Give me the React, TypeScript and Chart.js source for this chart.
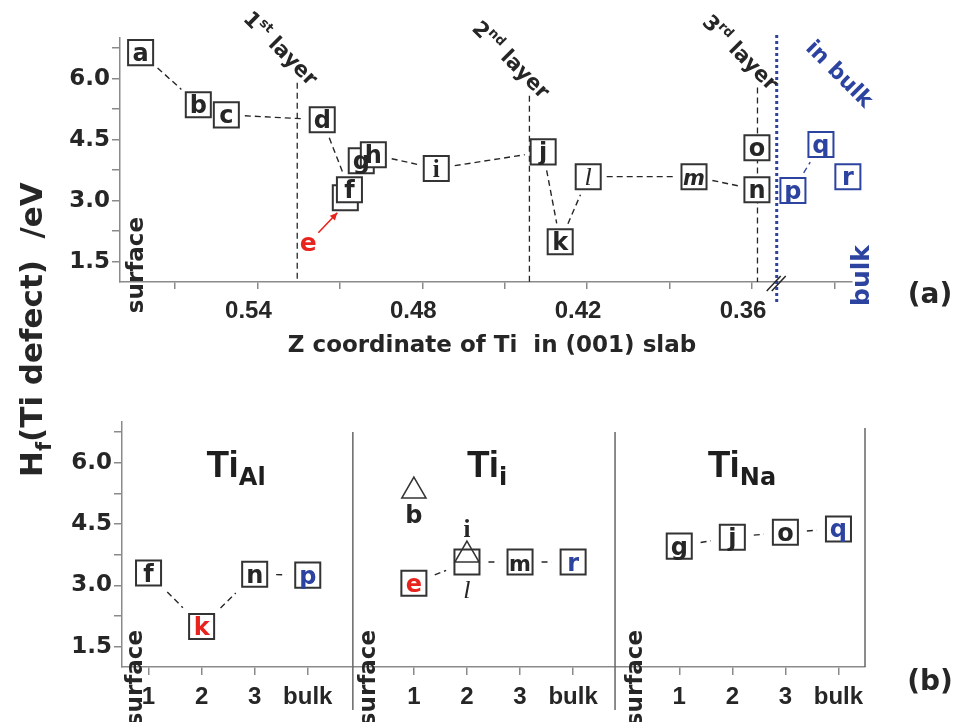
import React, { useEffect, useRef } from 'react';
import { Chart, registerables } from 'chart.js';

Chart.register(...registerables);

// ---------------- data ----------------
// panel (a): Z coordinate of Ti vs formation enthalpy
const topLabels = ['a', 'b', 'c', 'd', 'e', 'f', 'g', 'h', 'i', 'j', 'k', 'l', 'm', 'n', 'o', 'p', 'q', 'r'];
const topZ = [0.5825, 0.5615, 0.5513, 0.5164, 0.508, 0.5065, 0.5022, 0.4978, 0.4749, 0.436, 0.4298, 0.4196, 0.3811, 0.3582, 0.3582, 0.3451, 0.3349, 0.3251];
const topH = [6.64, 5.36, 5.11, 4.99, 3.07, 3.27, 3.98, 4.13, 3.79, 4.2, 1.99, 3.59, 3.59, 3.27, 4.3, 3.25, 4.38, 3.59];
const topLinks = [['a', 'b'], ['c', 'd'], ['d', 'f'], ['h', 'i'], ['i', 'j'], ['j', 'k'], ['k', 'l'], ['l', 'm'], ['m', 'n'], ['p', 'q'], ['q', 'r']];
const layerZ = [0.5255, 0.441, 0.358];
const layerNames = [['1', 'st'], ['2', 'nd'], ['3', 'rd']];
const bulkZ = 0.351;
const zTicks = [0.57, 0.54, 0.51, 0.48, 0.45, 0.42, 0.39, 0.36, 0.33];
const zTickLabels = ['', '0.54', '', '0.48', '', '0.42', '', '0.36', ''];
const hTicks = [1.5, 2.25, 3.0, 3.75, 4.5, 5.25, 6.0, 6.75];
const hTickLabels = ['1.5', '', '3.0', '', '4.5', '', '6.0', ''];

// panel (b): by site type
const panelNames = [['Ti', 'Al'], ['Ti', 'i'], ['Ti', 'Na']];
const bottomLabels = ['f', 'k', 'n', 'p', 'b', 'e', 'l', 'i', 'm', 'r', 'g', 'j', 'o', 'q'];
const bottomPos = [1, 2, 3, 4, 6, 6, 7, 7, 8, 9, 11, 12, 13, 14];
const bottomH = [3.3, 1.99, 3.27, 3.25, 5.31, 3.05, 3.57, 3.74, 3.57, 3.57, 3.96, 4.18, 4.3, 4.38];
const bottomLinks = [['f', 'k'], ['k', 'n'], ['n', 'p'], ['e', 'l'], ['l', 'm'], ['m', 'r'], ['g', 'j'], ['j', 'o'], ['o', 'q']];
const siteTickPos = [1, 2, 3, 4, 6, 7, 8, 9, 11, 12, 13, 14];
const siteTickLabels = ['1', '2', '3', 'bulk', '1', '2', '3', 'bulk', '1', '2', '3', 'bulk'];
const triangleSites = ['b', 'i'];
const blueSites = ['p', 'q', 'r'];
const redSitesB = ['e', 'k'];

// ---------------- styles ----------------
const DARK = '#262626';
const AXIS = '#8a8a8a';
const RED = '#e8231e';
const BLUE = '#2c43a0';
const DJ = '"DejaVu Sans"';
const LS = '"Liberation Sans"';
const SERIF = '"Liberation Serif"';

function letterFont(ch: string, top: boolean) {
  if (ch === 'i') return `bold 25px ${SERIF}`;
  if (ch === 'l') return `italic 26px ${SERIF}`;
  if (ch === 'm') return top ? `italic bold 21px ${DJ}` : `bold 21px ${DJ}`;
  return `bold 24px ${DJ}`;
}

function drawParts(ctx: CanvasRenderingContext2D, parts: any[], x: number, y: number, angle: number, align: string, color: string) {
  ctx.save();
  ctx.translate(x, y);
  ctx.rotate(angle);
  ctx.fillStyle = color;
  ctx.textBaseline = 'alphabetic';
  ctx.textAlign = 'left';
  let total = 0;
  parts.forEach((p) => { ctx.font = p.font; total += ctx.measureText(p.text).width; });
  let cx = align === 'right' ? -total : align === 'center' ? -total / 2 : 0;
  parts.forEach((p) => {
    ctx.font = p.font;
    ctx.fillText(p.text, cx, p.dy || 0);
    cx += ctx.measureText(p.text).width;
  });
  ctx.restore();
}

function drawLinks(ctx: CanvasRenderingContext2D, meta: any, labels: string[], links: string[][], gap: number, colorFn: (a: string, b: string) => string) {
  ctx.save();
  ctx.lineWidth = 1.4;
  ctx.setLineDash([6, 4]);
  links.forEach(([a, b]) => {
    const p = meta.data[labels.indexOf(a)];
    const q = meta.data[labels.indexOf(b)];
    const dx = q.x - p.x, dy = q.y - p.y;
    const len = Math.hypot(dx, dy);
    const ux = dx / len, uy = dy / len;
    const edge = 12.5 / Math.max(Math.abs(ux), Math.abs(uy)) + gap;
    if (len <= 2 * edge) return;
    ctx.strokeStyle = colorFn(a, b);
    ctx.beginPath();
    ctx.moveTo(p.x + ux * edge, p.y + uy * edge);
    ctx.lineTo(q.x - ux * edge, q.y - uy * edge);
    ctx.stroke();
  });
  ctx.restore();
}

const layerTopH = [5.9, 5.58, 5.78];

const topDecor = {
  id: 'topDecor',
  beforeDatasetsDraw(chart: any) {
    const { ctx, chartArea } = chart;
    const x = chart.scales.x, y = chart.scales.y;
    ctx.save();
    // layer boundary lines
    ctx.strokeStyle = DARK;
    ctx.lineWidth = 1.3;
    ctx.setLineDash([6, 4]);
    layerZ.forEach((z, i) => {
      const px = x.getPixelForValue(z);
      ctx.beginPath();
      ctx.moveTo(px, y.getPixelForValue(layerTopH[i]));
      ctx.lineTo(px, chartArea.bottom);
      ctx.stroke();
    });
    // bulk separator (blue dotted)
    const bx = x.getPixelForValue(bulkZ);
    ctx.strokeStyle = BLUE;
    ctx.lineWidth = 3;
    ctx.setLineDash([3, 3]);
    ctx.beginPath();
    ctx.moveTo(bx, chartArea.top - 3);
    ctx.lineTo(bx, chartArea.bottom + 21);
    ctx.stroke();
    // axis break mark
    ctx.setLineDash([]);
    ctx.strokeStyle = DARK;
    ctx.lineWidth = 1.5;
    [-3, 2].forEach((o) => {
      ctx.beginPath();
      ctx.moveTo(bx + o - 7, chartArea.bottom + 9);
      ctx.lineTo(bx + o + 7, chartArea.bottom - 6);
      ctx.stroke();
    });
    ctx.restore();
    const meta = chart.getDatasetMeta(0);
    drawLinks(ctx, meta, topLabels, topLinks, 6, (a, b) => (blueSites.includes(a) && blueSites.includes(b) ? BLUE : DARK));
  },
  afterDatasetsDraw(chart: any) {
    const { ctx, chartArea } = chart;
    const x = chart.scales.x, y = chart.scales.y;
    const meta = chart.getDatasetMeta(0);
    ctx.save();
    ctx.textAlign = 'center';
    ctx.textBaseline = 'alphabetic';
    meta.data.forEach((pt: any, i: number) => {
      const ch = topLabels[i];
      if (ch === 'e') return;
      ctx.font = letterFont(ch, true);
      ctx.fillStyle = blueSites.includes(ch) ? BLUE : DARK;
      ctx.fillText(ch, pt.x, pt.y + 8.5);
    });
    // e annotation with red arrow
    const e = meta.data[topLabels.indexOf('e')];
    ctx.fillStyle = RED;
    ctx.font = `bold 25px ${DJ}`;
    ctx.fillText('e', e.x - 37, e.y + 53);
    ctx.strokeStyle = RED;
    ctx.lineWidth = 1.6;
    const ax0 = e.x - 27, ay0 = e.y + 35, ax1 = e.x - 8, ay1 = e.y + 15;
    ctx.beginPath();
    ctx.moveTo(ax0, ay0);
    ctx.lineTo(ax1, ay1);
    ctx.stroke();
    const ang = Math.atan2(ay1 - ay0, ax1 - ax0);
    ctx.beginPath();
    ctx.moveTo(ax1, ay1);
    ctx.lineTo(ax1 - 8 * Math.cos(ang - 0.45), ay1 - 8 * Math.sin(ang - 0.45));
    ctx.lineTo(ax1 - 8 * Math.cos(ang + 0.45), ay1 - 8 * Math.sin(ang + 0.45));
    ctx.closePath();
    ctx.fill();
    ctx.restore();

    // layer labels
    layerZ.forEach((z, i) => {
      const px = x.getPixelForValue(z);
      const py = y.getPixelForValue(layerTopH[i]);
      drawParts(ctx, [
        { text: layerNames[i][0], font: `bold 21px ${DJ}` },
        { text: layerNames[i][1], font: `bold 13px ${DJ}`, dy: -9 },
        { text: ' layer', font: `bold 21px ${DJ}` },
      ], px + 12, py + 4, Math.PI / 4, 'right', DARK);
    });
    const bx = x.getPixelForValue(bulkZ);
    drawParts(ctx, [{ text: 'in bulk', font: `bold 22px ${DJ}` }], bx + 28, chartArea.top + 11, Math.PI / 4, 'left', BLUE);
    drawParts(ctx, [{ text: 'bulk', font: `bold 25px ${DJ}` }], bx + 92, chartArea.top + 207, -Math.PI / 2, 'right', BLUE);
    drawParts(ctx, [{ text: 'surface', font: `bold 23px ${DJ}` }], chartArea.left + 23, chartArea.top + 179, -Math.PI / 2, 'right', DARK);
    // axis title
    drawParts(ctx, [{ text: 'Z coordinate of Ti  in (001) slab', font: `bold 23px ${DJ}` }], 492, 352, 0, 'center', DARK);
    // y title (shared)
    drawParts(ctx, [
      { text: 'H', font: `bold 31px ${DJ}` },
      { text: 'f', font: `bold 21px ${DJ}`, dy: 9 },
      { text: '(Ti defect)  /eV', font: `bold 31px ${DJ}` },
    ], 42, 477, -Math.PI / 2, 'left', DARK);
    drawParts(ctx, [{ text: '(a)', font: `bold 28px ${DJ}` }], 930, 303, 0, 'center', DARK);
  },
};

const dividerPos = [4.85, 9.79];
const titlePos = [2.65, 7.38, 12.18];
const surfaceOffset = [20, 22, 27];

const bottomDecor = {
  id: 'bottomDecor',
  beforeDatasetsDraw(chart: any) {
    const { ctx, chartArea } = chart;
    const x = chart.scales.x;
    ctx.save();
    ctx.strokeStyle = '#666';
    ctx.lineWidth = 1.5;
    dividerPos.forEach((d) => {
      const px = x.getPixelForValue(d);
      ctx.beginPath();
      ctx.moveTo(px, chartArea.top + 10);
      ctx.lineTo(px, chartArea.bottom + 43);
      ctx.stroke();
    });
    ctx.beginPath();
    ctx.moveTo(chartArea.right, chartArea.top + 6);
    ctx.lineTo(chartArea.right, chartArea.bottom);
    ctx.stroke();
    ctx.restore();
    const meta = chart.getDatasetMeta(0);
    drawLinks(ctx, meta, bottomLabels, bottomLinks, 9, () => DARK);
  },
  afterDatasetsDraw(chart: any) {
    const { ctx, chartArea } = chart;
    const x = chart.scales.x;
    const meta = chart.getDatasetMeta(0);
    ctx.save();
    ctx.textAlign = 'center';
    ctx.textBaseline = 'alphabetic';
    meta.data.forEach((pt: any, i: number) => {
      const ch = bottomLabels[i];
      let dy = 8.5;
      if (ch === 'b') dy = 32;
      else if (ch === 'i') dy = -18;
      else if (ch === 'l') dy = 36;
      ctx.font = letterFont(ch, false);
      ctx.fillStyle = redSitesB.includes(ch) ? RED : blueSites.includes(ch) ? BLUE : DARK;
      ctx.fillText(ch, pt.x, pt.y + dy);
    });
    ctx.restore();
    panelNames.forEach((nm, i) => {
      drawParts(ctx, [
        { text: nm[0], font: `bold 37px ${LS}` },
        { text: nm[1], font: `bold 24px ${DJ}`, dy: 8 },
      ], x.getPixelForValue(titlePos[i]), chartArea.top + 55, 0, 'center', '#1e1e1e');
    });
    const lefts = [chartArea.left, x.getPixelForValue(dividerPos[0]), x.getPixelForValue(dividerPos[1])];
    lefts.forEach((l, i) => {
      drawParts(ctx, [{ text: 'surface', font: `bold 23px ${DJ}` }], l + surfaceOffset[i], chartArea.bottom - 37, -Math.PI / 2, 'right', DARK);
    });
    drawParts(ctx, [{ text: '(b)', font: `bold 28px ${DJ}` }], 930, 690, 0, 'center', DARK);
  },
};

function yScale(width: number) {
  return {
    type: 'linear',
    min: 1,
    max: 7,
    afterBuildTicks: (s: any) => { s.ticks = hTicks.map((v) => ({ value: v })); },
    afterFit: (s: any) => { s.width = width; },
    border: { color: AXIS, width: 1.5 },
    grid: { drawOnChartArea: false, drawTicks: true, tickLength: 8, color: AXIS, lineWidth: 1.5 },
    ticks: {
      autoSkip: false,
      padding: 2,
      color: DARK,
      font: { family: 'DejaVu Sans', weight: 'bold', size: 23 },
      callback: (_v: any, i: number) => hTickLabels[i],
    },
  };
}

function topConfig(): any {
  return {
    type: 'scatter',
    data: {
      datasets: [{
        data: topZ.map((z, i) => ({ x: z, y: topH[i] })),
        pointStyle: 'rect',
        pointRadius: 17.7,
        pointBorderWidth: 2,
        pointBackgroundColor: '#ffffff',
        pointBorderColor: (c: any) => (blueSites.includes(topLabels[c.dataIndex]) ? BLUE : '#333'),
        clip: false,
      }],
    },
    options: {
      responsive: false,
      animation: false,
      devicePixelRatio: 1,
      events: [],
      layout: { padding: { left: 0, top: 38, right: 104, bottom: 380 } },
      plugins: { legend: { display: false }, tooltip: { enabled: false } },
      scales: {
        x: {
          type: 'linear',
          reverse: true,
          min: 0.3236,
          max: 0.59,
          afterBuildTicks: (s: any) => { s.ticks = zTicks.map((v) => ({ value: v })); },
          afterFit: (s: any) => { s.height = 60; },
          border: { color: AXIS, width: 1.5 },
          grid: { drawOnChartArea: false, drawTicks: true, tickLength: 7, color: AXIS, lineWidth: 1.5 },
          ticks: {
            autoSkip: false,
            maxRotation: 0,
            minRotation: 0,
            padding: 8,
            labelOffset: -9,
            color: DARK,
            font: { family: 'Liberation Sans', weight: 'bold', size: 24 },
            callback: (_v: any, i: number) => zTickLabels[i],
          },
        },
        y: yScale(120),
      },
    },
    plugins: [topDecor],
  };
}

function bottomConfig(): any {
  return {
    type: 'scatter',
    data: {
      datasets: [{
        data: bottomPos.map((p, i) => ({ x: p, y: bottomH[i] })),
        pointStyle: (c: any) => (triangleSites.includes(bottomLabels[c.dataIndex]) ? 'triangle' : 'rect'),
        pointRadius: (c: any) => (triangleSites.includes(bottomLabels[c.dataIndex]) ? 14 : 17.7),
        pointBorderWidth: (c: any) => (triangleSites.includes(bottomLabels[c.dataIndex]) ? 1.5 : 2),
        pointBackgroundColor: (c: any) => (triangleSites.includes(bottomLabels[c.dataIndex]) ? 'rgba(0,0,0,0)' : '#ffffff'),
        pointBorderColor: '#333',
        clip: false,
      }],
    },
    options: {
      responsive: false,
      animation: false,
      devicePixelRatio: 1,
      events: [],
      layout: { padding: { left: 0, top: 422, right: 91, bottom: 15 } },
      plugins: { legend: { display: false }, tooltip: { enabled: false } },
      scales: {
        x: {
          type: 'linear',
          min: 0.5,
          max: 14.5,
          afterBuildTicks: (s: any) => { s.ticks = siteTickPos.map((v) => ({ value: v })); },
          afterFit: (s: any) => { s.height = 40; },
          border: { color: AXIS, width: 1.5 },
          grid: { drawOnChartArea: false, drawTicks: true, tickLength: 8, color: AXIS, lineWidth: 1.5 },
          ticks: {
            autoSkip: false,
            maxRotation: 0,
            minRotation: 0,
            padding: 8,
            color: DARK,
            font: { family: 'Liberation Sans', weight: 'bold', size: 24 },
            callback: (_v: any, i: number) => siteTickLabels[i],
          },
        },
        y: yScale(122),
      },
    },
    plugins: [bottomDecor],
  };
}

export default function App() {
  const topRef = useRef<HTMLCanvasElement>(null);
  const botRef = useRef<HTMLCanvasElement>(null);
  useEffect(() => {
    const a = new Chart(topRef.current as HTMLCanvasElement, topConfig());
    const b = new Chart(botRef.current as HTMLCanvasElement, bottomConfig());
    return () => { a.destroy(); b.destroy(); };
  }, []);
  return (
    <div style={{ position: 'absolute', left: 0, top: 0, width: 956, height: 722, background: '#fff', overflow: 'hidden' }}>
      <canvas ref={topRef} width={956} height={722} style={{ position: 'absolute', left: 0, top: 0 }} />
      <canvas ref={botRef} width={956} height={722} style={{ position: 'absolute', left: 0, top: 0 }} />
    </div>
  );
}
